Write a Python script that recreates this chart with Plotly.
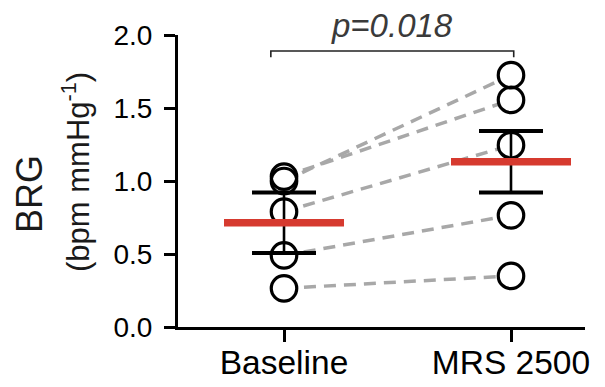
import plotly.graph_objects as go

categories = ["Baseline", "MRS 2500"]
cat_x = [0, 1]
baseline_vals = [1.00, 1.03, 0.79, 0.49, 0.265]
mrs_vals = [1.725, 1.555, 1.245, 0.765, 0.35]
mean_vals = [0.714, 1.132]
sem_vals = [0.207, 0.211]
y_ticks = [0.0, 0.5, 1.0, 1.5, 2.0]
p_text = "p=0.018"

FONT = "Liberation Sans, Arial, sans-serif"
LINE_EW = 1.4  # plotly line-ew marker length = 1.4 * size
BODY = 8       # default page body margin that offsets the figure

fig = go.Figure()

# paired dashed lines
lx, ly = [], []
for b, m in zip(baseline_vals, mrs_vals):
    lx += [cat_x[0], cat_x[1], None]
    ly += [b, m, None]
fig.add_trace(go.Scatter(x=lx, y=ly, mode="lines",
                         line=dict(color="#a8a8a8", width=3.5, dash="12px,8px"),
                         hoverinfo="skip", showlegend=False))

px = [cat_x[0]] * len(baseline_vals) + [cat_x[1]] * len(mrs_vals)
py = baseline_vals + mrs_vals
# white mask so lines stop at circle edges
fig.add_trace(go.Scatter(x=px, y=py, mode="markers",
                         marker=dict(symbol="circle", size=26, color="white", line=dict(width=0)),
                         hoverinfo="skip", showlegend=False))
# open circles
fig.add_trace(go.Scatter(x=px, y=py, mode="markers",
                         marker=dict(symbol="circle-open", size=25.5, color="black",
                                     line=dict(width=3.2, color="black")),
                         showlegend=False))
# SEM stem
fig.add_trace(go.Scatter(x=cat_x, y=mean_vals, mode="markers",
                         marker=dict(size=1, color="rgba(0,0,0,0)"),
                         error_y=dict(type="data", array=sem_vals, visible=True,
                                      color="black", thickness=2.6, width=0),
                         hoverinfo="skip", showlegend=False))
# SEM caps
cap_x = cat_x + cat_x
cap_y = [m + s for m, s in zip(mean_vals, sem_vals)] + [m - s for m, s in zip(mean_vals, sem_vals)]
fig.add_trace(go.Scatter(x=cap_x, y=cap_y, mode="markers",
                         marker=dict(symbol="line-ew", size=64 / LINE_EW, color="black",
                                     line=dict(width=4, color="black")),
                         hoverinfo="skip", showlegend=False))
# mean line
fig.add_trace(go.Scatter(x=cat_x, y=mean_vals, mode="markers",
                         marker=dict(symbol="line-ew", size=120 / LINE_EW, color="#d63a2f",
                                     line=dict(width=7.5, color="#d63a2f")),
                         hoverinfo="skip", showlegend=False))

# significance bracket
bx0, bx1 = cat_x[0] - 0.058, cat_x[1] + 0.012
by_top, by_leg = 1.89, 1.848
fig.add_shape(type="path",
              path=f"M {bx0},{by_leg} L {bx0},{by_top} L {bx1},{by_top} L {bx1},{by_leg}",
              xref="x", yref="y", line=dict(color="#222222", width=1.6))
fig.add_annotation(x=(bx0 + bx1) / 2, y=by_top, xref="x", yref="y",
                   text=f"<i>{p_text}</i>", showarrow=False,
                   xanchor="center", yanchor="bottom",
                   yshift=5, font=dict(family=FONT, size=33, color="#3a3a3a"))

# y-axis title (two lines); positions in page pixels converted to paper coords
PL, PT, PW, PH = 178, 35, 407, 292
fig.add_annotation(x=(29 - PL) / PW, y=(PT + PH - 194) / PH, xref="paper", yref="paper",
                   text="BRG", textangle=-90, showarrow=False,
                   xanchor="center", yanchor="middle",
                   font=dict(family=FONT, size=36, color="#1a1a1a"))
fig.add_annotation(x=(76 - PL) / PW, y=(PT + PH - 172) / PH, xref="paper", yref="paper",
                   text="(bpm mmHg<sup>-1</sup>)", textangle=-90, showarrow=False,
                   xanchor="center", yanchor="middle",
                   font=dict(family=FONT, size=31, color="#1a1a1a"))

W, H = 605 - BODY, 387 - BODY
fig.update_layout(
    width=W, height=H,
    margin=dict(l=PL - BODY, r=605 - PL - PW, t=PT - BODY, b=387 - PT - PH,
                pad=0, autoexpand=False),
    plot_bgcolor="white", paper_bgcolor="white",
    font=dict(family=FONT, color="black"),
    showlegend=False,
    xaxis=dict(range=[-0.467, 1.326], tickvals=cat_x, ticktext=categories,
               ticks="outside", ticklen=12, tickwidth=3, tickcolor="black",
               showline=True, linewidth=3, linecolor="black",
               showgrid=False, zeroline=False, automargin=False,
               ticklabelstandoff=-8,
               tickfont=dict(family=FONT, size=33.5, color="black")),
    yaxis=dict(range=[0, 2], tickvals=y_ticks, ticktext=[f"{v:.1f}" for v in y_ticks],
               ticks="outside", ticklen=11, tickwidth=3, tickcolor="black",
               showline=True, linewidth=3, linecolor="black",
               showgrid=False, zeroline=False, automargin=False,
               ticklabelstandoff=6,
               tickfont=dict(family=FONT, size=28, color="black")),
)

fig.write_html("out.html")
